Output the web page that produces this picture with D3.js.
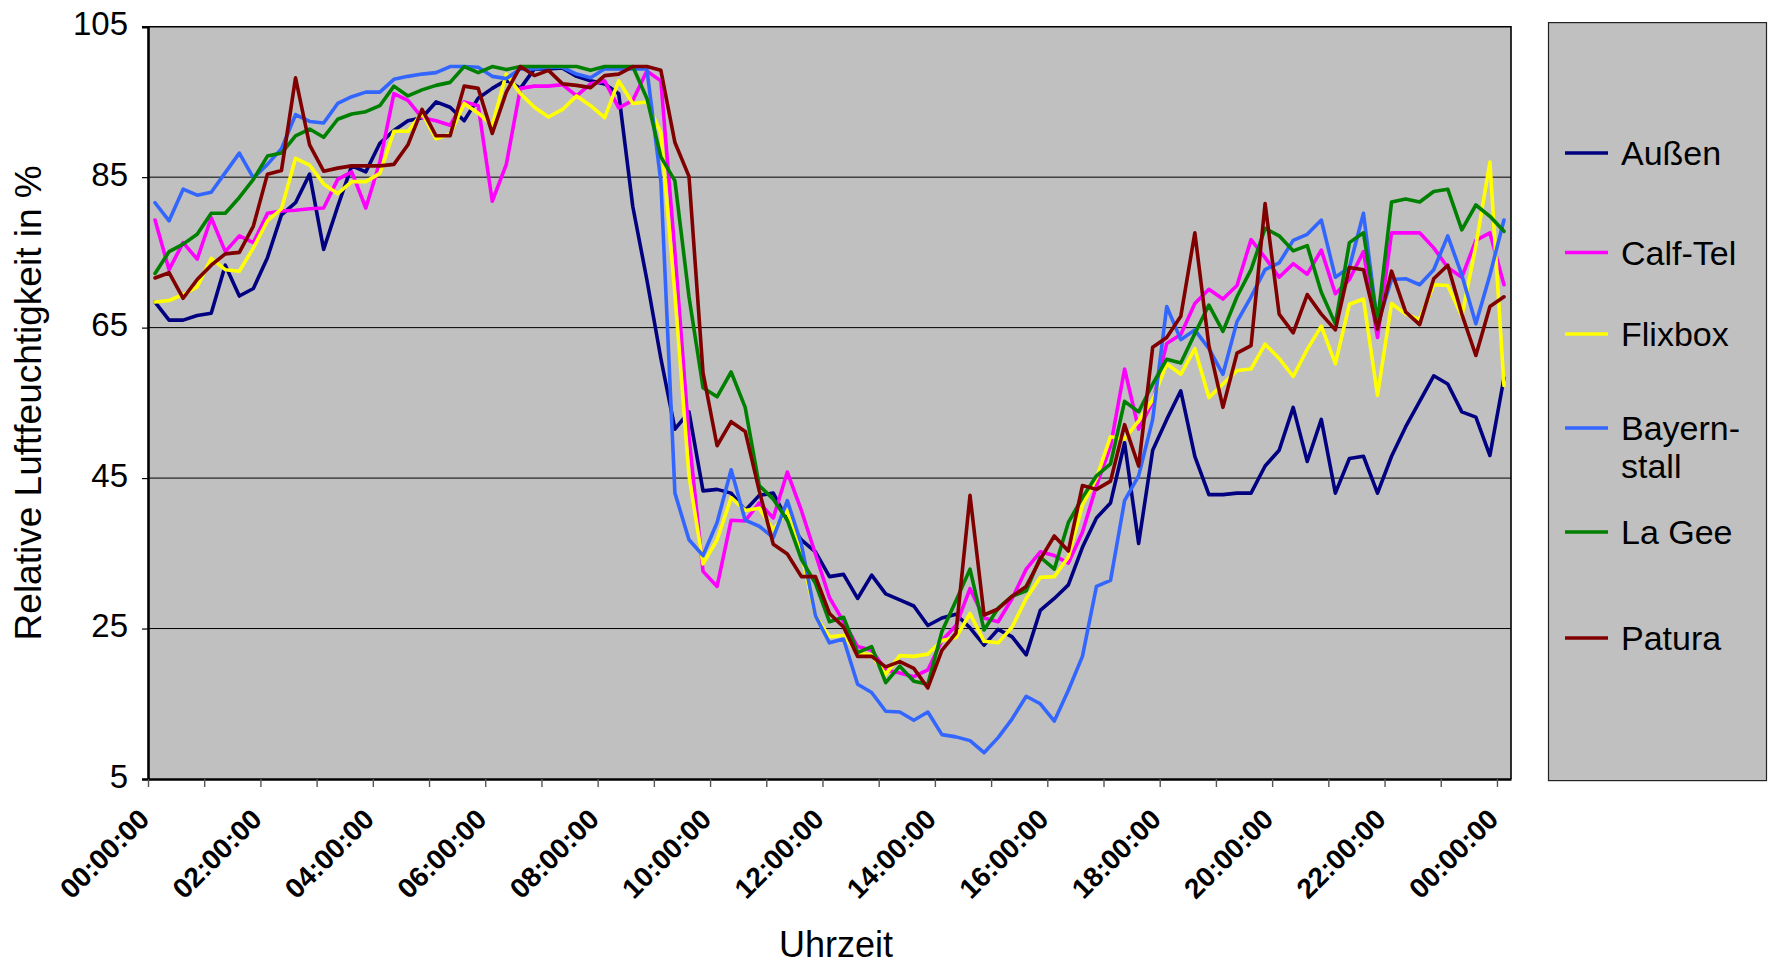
<!DOCTYPE html>
<html><head><meta charset="utf-8">
<script src="https://cdn.jsdelivr.net/npm/d3@7"></script>
<style>
html,body{margin:0;padding:0;background:#fff;}
svg{display:block;font-family:"Liberation Sans",Arial,sans-serif;}
</style></head>
<body>
<svg id="chart" width="1769" height="967"></svg>
<script>
// ---- data (15-minute readings, 00:00 to 24:00) ----
const seriesNames = ["Außen","Calf-Tel","Flixbox","Bayernstall","La Gee","Patura"];
const legendLabels = [["Außen"],["Calf-Tel"],["Flixbox"],["Bayern-","stall"],["La Gee"],["Patura"]];
const seriesColors = ["#000080","#FF00FF","#FFFF00","#3366FF","#008000","#800000"];
const yTicks = [5,25,45,65,85,105];
const xTickLabels = ["00:00:00","02:00:00","04:00:00","06:00:00","08:00:00","10:00:00","12:00:00",
  "14:00:00","16:00:00","18:00:00","20:00:00","22:00:00","00:00:00"];

const aussen = [68.4,66.0,66.0,66.6,66.9,73.3,69.2,70.2,74.3,80.0,81.6,85.4,75.4,81.1,86.5,85.7,89.5,
91.2,92.5,92.9,95.0,94.3,92.5,95.5,96.8,97.9,96.8,99.4,99.4,99.5,98.4,97.8,97.4,
96.1,81.1,71.4,60.9,51.5,53.8,43.3,43.5,43.0,40.7,42.7,43.0,39.4,36.8,35.2,31.9,
32.2,29.0,32.1,29.6,28.8,28.0,25.4,26.4,26.9,25.1,22.8,24.9,23.9,21.5,27.4,29.0,30.8,
35.8,39.7,41.7,49.7,36.3,48.7,52.8,56.6,47.9,42.8,42.8,43.0,43.0,46.6,48.7,54.4,
47.2,52.8,43.0,47.6,47.9,43.0,47.9,51.8,55.2,58.6,57.5,53.8,53.1,48.0,58.3];

const calfTel = [79.3,72.7,76.3,74.1,79.6,75.1,77.2,76.3,80.2,80.5,80.6,80.8,80.9,84.7,85.7,80.9,87.0,
96.1,95.2,92.9,92.5,91.9,95.0,94.5,81.8,86.7,96.8,97.1,97.1,97.3,95.8,97.4,97.8,
94.2,95.2,99.1,97.8,75.0,50.5,32.6,30.6,39.4,39.3,41.7,39.7,45.8,40.7,34.9,29.1,
25.9,22.6,22.1,19.5,19.1,18.6,19.5,23.4,25.4,30.3,26.4,25.9,29.0,32.9,35.2,34.7,33.7,
37.8,44.0,49.2,59.5,51.5,55.1,62.9,64.1,68.2,70.1,68.8,70.6,76.7,74.3,71.7,73.5,
72.1,75.3,69.5,71.4,75.1,63.7,77.6,77.6,77.6,75.6,73.0,71.7,76.6,77.6,70.7];

const flixbox = [68.4,68.6,69.4,70.4,74.2,72.7,72.5,75.6,79.2,80.8,87.5,86.6,84.1,82.8,84.4,84.4,85.5,
91.1,91.1,93.5,90.1,90.7,94.8,93.5,91.9,98.7,96.1,94.3,93.0,94.0,95.8,94.5,92.9,
97.8,94.8,95.0,90.9,69.4,45.3,33.6,36.8,42.4,40.7,41.0,38.1,40.7,34.9,26.7,23.9,
24.1,21.7,21.5,18.9,21.4,21.3,21.6,23.4,23.8,27.0,23.3,23.1,25.2,29.0,31.8,31.9,34.5,
41.4,45.0,50.5,50.2,52.6,55.4,60.2,58.8,62.2,55.7,57.5,59.3,59.5,62.8,60.9,58.5,
62.1,65.2,60.2,68.1,68.8,56.0,68.2,66.8,66.1,70.7,70.6,66.5,75.9,87.0,57.3];

const bayernstall = [81.6,79.2,83.4,82.6,83.0,85.6,88.2,84.9,86.7,88.8,93.3,92.4,92.2,94.8,95.7,96.3,96.3,
98.0,98.4,98.7,98.9,99.7,99.7,99.6,98.4,98.1,99.4,99.4,99.6,99.6,98.7,98.2,99.4,
99.4,99.4,99.4,84.4,43.0,36.8,34.7,39.1,46.1,39.4,38.6,37.1,42.0,36.2,26.7,23.1,
23.6,17.6,16.5,14.0,13.9,12.8,13.9,10.9,10.6,10.1,8.5,10.5,13.0,16.0,15.0,12.7,16.8,
21.3,30.6,31.4,42.0,45.3,52.8,67.8,63.4,64.7,62.2,58.8,65.8,69.1,72.7,73.6,76.6,
77.4,79.3,71.7,73.0,80.2,65.5,71.4,71.5,70.7,72.7,77.2,72.0,65.5,72.0,79.3];

const laGee = [72.2,75.1,76.1,77.4,80.2,80.2,82.3,84.7,87.8,88.2,90.5,91.4,90.3,92.7,93.4,93.7,94.5,
97.1,95.8,96.6,97.2,97.6,99.7,98.9,99.7,99.3,99.7,99.7,99.7,99.7,99.7,99.2,99.7,
99.7,99.7,95.5,87.7,84.5,69.1,57.0,55.8,59.1,54.4,44.0,42.2,39.4,34.2,31.0,25.9,
26.5,21.8,22.6,17.8,20.0,18.0,17.6,24.6,28.7,32.9,24.8,27.7,29.3,30.0,34.5,32.9,39.1,
42.4,45.3,46.9,55.2,53.8,57.5,60.8,60.3,64.2,68.0,64.5,69.1,72.7,78.2,77.2,75.2,
75.9,69.7,65.5,76.3,77.6,65.8,81.7,82.1,81.7,83.1,83.4,78.0,81.3,79.8,77.8];

const patura = [71.6,72.3,68.9,71.4,73.3,74.8,75.0,78.5,85.4,85.9,98.2,89.3,85.8,86.2,86.5,86.5,86.5,
86.7,89.3,94.0,90.5,90.5,97.1,96.8,90.8,96.3,99.7,98.5,99.2,97.4,97.2,96.9,98.5,
98.7,99.7,99.7,99.2,89.6,85.1,59.0,49.3,52.5,51.2,43.3,36.2,34.9,31.9,31.9,27.0,
25.2,21.3,21.3,19.9,20.6,19.7,17.1,22.1,24.4,42.7,26.8,27.6,29.3,30.6,34.2,37.3,35.3,
44.0,43.5,44.6,52.1,46.6,62.4,63.7,66.5,77.6,62.6,54.4,61.6,62.6,81.5,66.8,64.3,
69.4,66.8,64.7,73.0,72.7,64.8,72.5,67.1,65.4,71.5,73.3,66.8,61.3,67.8,69.1];

const seriesValues = [aussen, calfTel, flixbox, bayernstall, laGee, patura];
const nCat = aussen.length; // 97 categories

// ---- layout ----
const plot = {left:148, right:1511, top:26.7, bottom:779};
const svg = d3.select("#chart");
svg.append("rect").attr("width",1769).attr("height",967).attr("fill","#fff");

const x = d3.scaleLinear().domain([0, nCat]).range([plot.left, plot.right]);
const y = d3.scaleLinear().domain([5, 105]).range([plot.bottom, plot.top]);

// plot background
svg.append("rect").attr("x",plot.left).attr("y",plot.top)
  .attr("width",plot.right-plot.left).attr("height",plot.bottom-plot.top)
  .attr("fill","#C0C0C0");

// gridlines
svg.append("g").selectAll("line").data(yTicks.filter(v=>v>5 && v<105)).join("line")
  .attr("x1",plot.left).attr("x2",plot.right)
  .attr("y1",d=>y(d)).attr("y2",d=>y(d))
  .attr("stroke","#000").attr("stroke-width",1);

// border top/right
svg.append("path")
  .attr("d",`M${plot.left},${plot.top}H${plot.right}V${plot.bottom}`)
  .attr("fill","none").attr("stroke","#000").attr("stroke-width",1.6);

// lines
const line = d3.line().x((d,i)=>x(i+0.5)).y(d=>y(d)).curve(d3.curveLinear);
svg.append("g").selectAll("path").data(seriesValues).join("path")
  .attr("d", d=>line(d))
  .attr("fill","none")
  .attr("stroke",(d,i)=>seriesColors[i])
  .attr("stroke-width",3.6)
  .attr("stroke-linejoin","round")
  .attr("stroke-linecap","round");

// y axis
const yAxis = svg.append("g").attr("transform",`translate(${plot.left},0)`)
  .call(d3.axisLeft(y).tickValues(yTicks).tickSize(6).tickPadding(14).tickFormat(d3.format("d")));
yAxis.select(".domain").attr("stroke","#000").attr("stroke-width",2.6);
yAxis.selectAll(".tick line").attr("stroke","#000").attr("stroke-width",1.2);
yAxis.selectAll(".tick text").attr("font-size",33).attr("fill","#000")
  .attr("font-family","Liberation Sans, Arial, sans-serif")
  .attr("dy",null).attr("y",8).attr("x",-20);

// x axis
const xAxis = svg.append("g").attr("transform",`translate(0,${plot.bottom})`)
  .call(d3.axisBottom(x).tickValues(d3.range(0, nCat, 4)).tickSize(8).tickSizeOuter(0)
    .tickFormat(i => i % 8 === 0 ? xTickLabels[i/8] : ""));
xAxis.select(".domain").attr("stroke","#000").attr("stroke-width",2.6);
xAxis.selectAll(".tick line").attr("stroke","#555").attr("stroke-width",1.4);
xAxis.selectAll(".tick text")
  .attr("font-size",28).attr("font-weight","bold").attr("fill","#000")
  .attr("font-family","Liberation Sans, Arial, sans-serif")
  .attr("text-anchor","end").attr("dy",null).attr("y",0).attr("x",0)
  .attr("transform","translate(2.5,42) rotate(-45)");

// axis titles
svg.append("text").attr("transform",`translate(41,${(plot.top+plot.bottom)/2}) rotate(-90)`)
  .attr("text-anchor","middle").attr("font-size",37).attr("fill","#000")
  .text("Relative Luftfeuchtigkeit in %");
svg.append("text").attr("x",836).attr("y",957)
  .attr("text-anchor","middle").attr("font-size",36).attr("fill","#000")
  .text("Uhrzeit");

// legend
const legend = svg.append("g");
legend.append("rect").attr("x",1548.5).attr("y",22.6).attr("width",218).attr("height",758)
  .attr("fill","#C0C0C0").attr("stroke","#222").attr("stroke-width",1.2);
const legendY = [153, 252.5, 334, 428, 532, 638];
seriesNames.forEach((name,i)=>{
  const g = legend.append("g").attr("transform",`translate(0,${legendY[i]})`);
  g.append("line").attr("x1",1565).attr("x2",1608).attr("y1",0).attr("y2",0)
    .attr("stroke",seriesColors[i]).attr("stroke-width",3.6);
  const t = g.append("text").attr("x",1621).attr("y",12).attr("font-size",34).attr("fill","#000");
  legendLabels[i].forEach((s,k)=>{
    t.append("tspan").attr("x",1621).attr("dy", k===0 ? 0 : 38).text(s);
  });
});
</script>
</body></html>
